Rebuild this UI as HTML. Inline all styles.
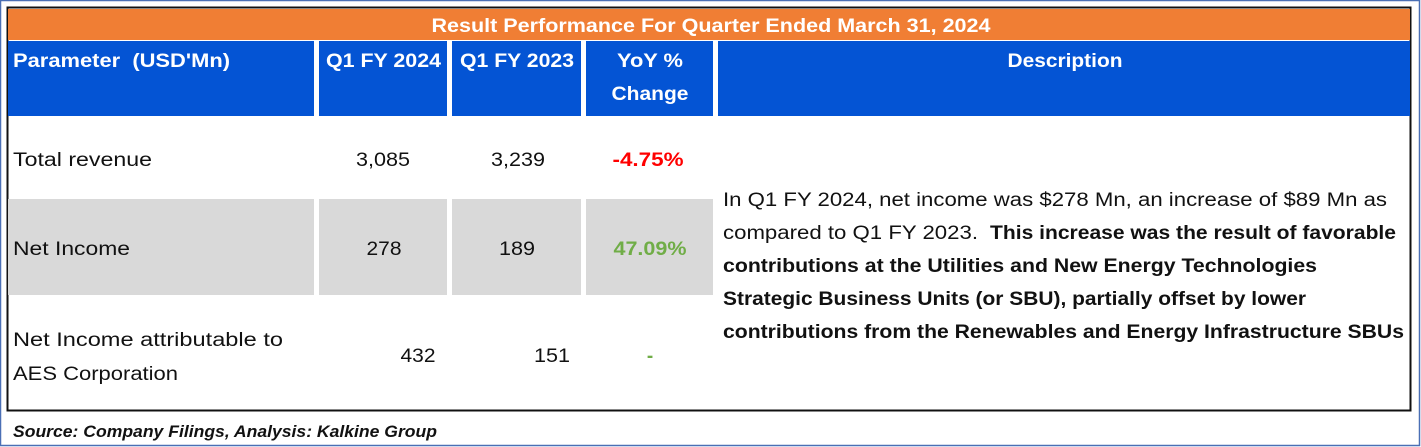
<!DOCTYPE html>
<html><head><meta charset="utf-8"><style>
html,body{margin:0;padding:0;background:#fff;}
svg{display:block;}
text{font-family:"Liberation Sans",sans-serif;}
</style></head><body>
<svg width="1421" height="447" viewBox="0 0 1421 447">
<rect x="0.5" y="0.5" width="1419" height="445" fill="#fff" stroke="#4a6fb5" stroke-width="1.5"/>
<rect x="7.5" y="7.5" width="1403" height="403" fill="#fff" stroke="#111" stroke-width="2"/>
<rect x="8" y="9" width="1402" height="31" fill="#f07e34"/>
<text x="711" y="32" font-size="19" font-weight="bold" fill="#fff" text-anchor="middle" textLength="559" lengthAdjust="spacingAndGlyphs">Result Performance For Quarter Ended March 31, 2024</text>
<g fill="#0454d4">
<rect x="8" y="41" width="306" height="75"/>
<rect x="319" y="41" width="128" height="75"/>
<rect x="452" y="41" width="129" height="75"/>
<rect x="586" y="41" width="127" height="75"/>
<rect x="718" y="41" width="692" height="75"/>
</g>
<g font-size="19" font-weight="bold" fill="#fff">
<text x="13" y="67" textLength="217" lengthAdjust="spacingAndGlyphs">Parameter&#160; (USD'Mn)</text>
<text x="326" y="67" textLength="115" lengthAdjust="spacingAndGlyphs">Q1 FY 2024</text>
<text x="460" y="67" textLength="114" lengthAdjust="spacingAndGlyphs">Q1 FY 2023</text>
<text x="650" y="67" text-anchor="middle" textLength="66" lengthAdjust="spacingAndGlyphs">YoY %</text>
<text x="650" y="100" text-anchor="middle" textLength="77" lengthAdjust="spacingAndGlyphs">Change</text>
<text x="1065" y="67" text-anchor="middle" textLength="115" lengthAdjust="spacingAndGlyphs">Description</text>
</g>
<g fill="#d9d9d9">
<rect x="8" y="199" width="306" height="96"/>
<rect x="319" y="199" width="128" height="96"/>
<rect x="452" y="199" width="129" height="96"/>
<rect x="586" y="199" width="127" height="96"/>
</g>
<g font-size="19" fill="#111">
<text x="13" y="166" textLength="139" lengthAdjust="spacingAndGlyphs">Total revenue</text>
<text x="383" y="166" text-anchor="middle" textLength="54" lengthAdjust="spacingAndGlyphs">3,085</text>
<text x="518" y="166" text-anchor="middle" textLength="54" lengthAdjust="spacingAndGlyphs">3,239</text>
<text x="13" y="255" textLength="117" lengthAdjust="spacingAndGlyphs">Net Income</text>
<text x="384" y="255" text-anchor="middle" textLength="35" lengthAdjust="spacingAndGlyphs">278</text>
<text x="517" y="255" text-anchor="middle" textLength="36" lengthAdjust="spacingAndGlyphs">189</text>
<text x="13" y="346" textLength="270" lengthAdjust="spacingAndGlyphs">Net Income attributable to</text>
<text x="13" y="380" textLength="165" lengthAdjust="spacingAndGlyphs">AES Corporation</text>
<text x="418" y="362" text-anchor="middle" textLength="35" lengthAdjust="spacingAndGlyphs">432</text>
<text x="552" y="362" text-anchor="middle" textLength="36" lengthAdjust="spacingAndGlyphs">151</text>
</g>
<text x="648" y="166" font-size="19" font-weight="bold" fill="#ff0000" text-anchor="middle" textLength="71" lengthAdjust="spacingAndGlyphs">-4.75%</text>
<text x="650" y="255" font-size="19" font-weight="bold" fill="#70ad47" text-anchor="middle" textLength="73" lengthAdjust="spacingAndGlyphs">47.09%</text>
<text x="650" y="362" font-size="19" font-weight="bold" fill="#70ad47" text-anchor="middle">-</text>
<g font-size="19" fill="#111">
<text x="723" y="206" textLength="664" lengthAdjust="spacingAndGlyphs">In Q1 FY 2024, net income was $278 Mn, an increase of $89 Mn as</text>
<text x="723" y="239" textLength="255" lengthAdjust="spacingAndGlyphs">compared to Q1 FY 2023.</text>
<text x="990" y="239" font-weight="bold" textLength="406" lengthAdjust="spacingAndGlyphs">This increase was the result of favorable</text>
<text x="723" y="272" font-weight="bold" textLength="594" lengthAdjust="spacingAndGlyphs">contributions at the Utilities and New Energy Technologies</text>
<text x="723" y="305" font-weight="bold" textLength="583" lengthAdjust="spacingAndGlyphs">Strategic Business Units (or SBU), partially offset by lower</text>
<text x="723" y="338" font-weight="bold" textLength="681" lengthAdjust="spacingAndGlyphs">contributions from the Renewables and Energy Infrastructure SBUs</text>
</g>
<text x="13" y="437" font-size="17" font-weight="bold" font-style="italic" fill="#111" textLength="424" lengthAdjust="spacingAndGlyphs">Source: Company Filings, Analysis: Kalkine Group</text>
</svg>
</body></html>
